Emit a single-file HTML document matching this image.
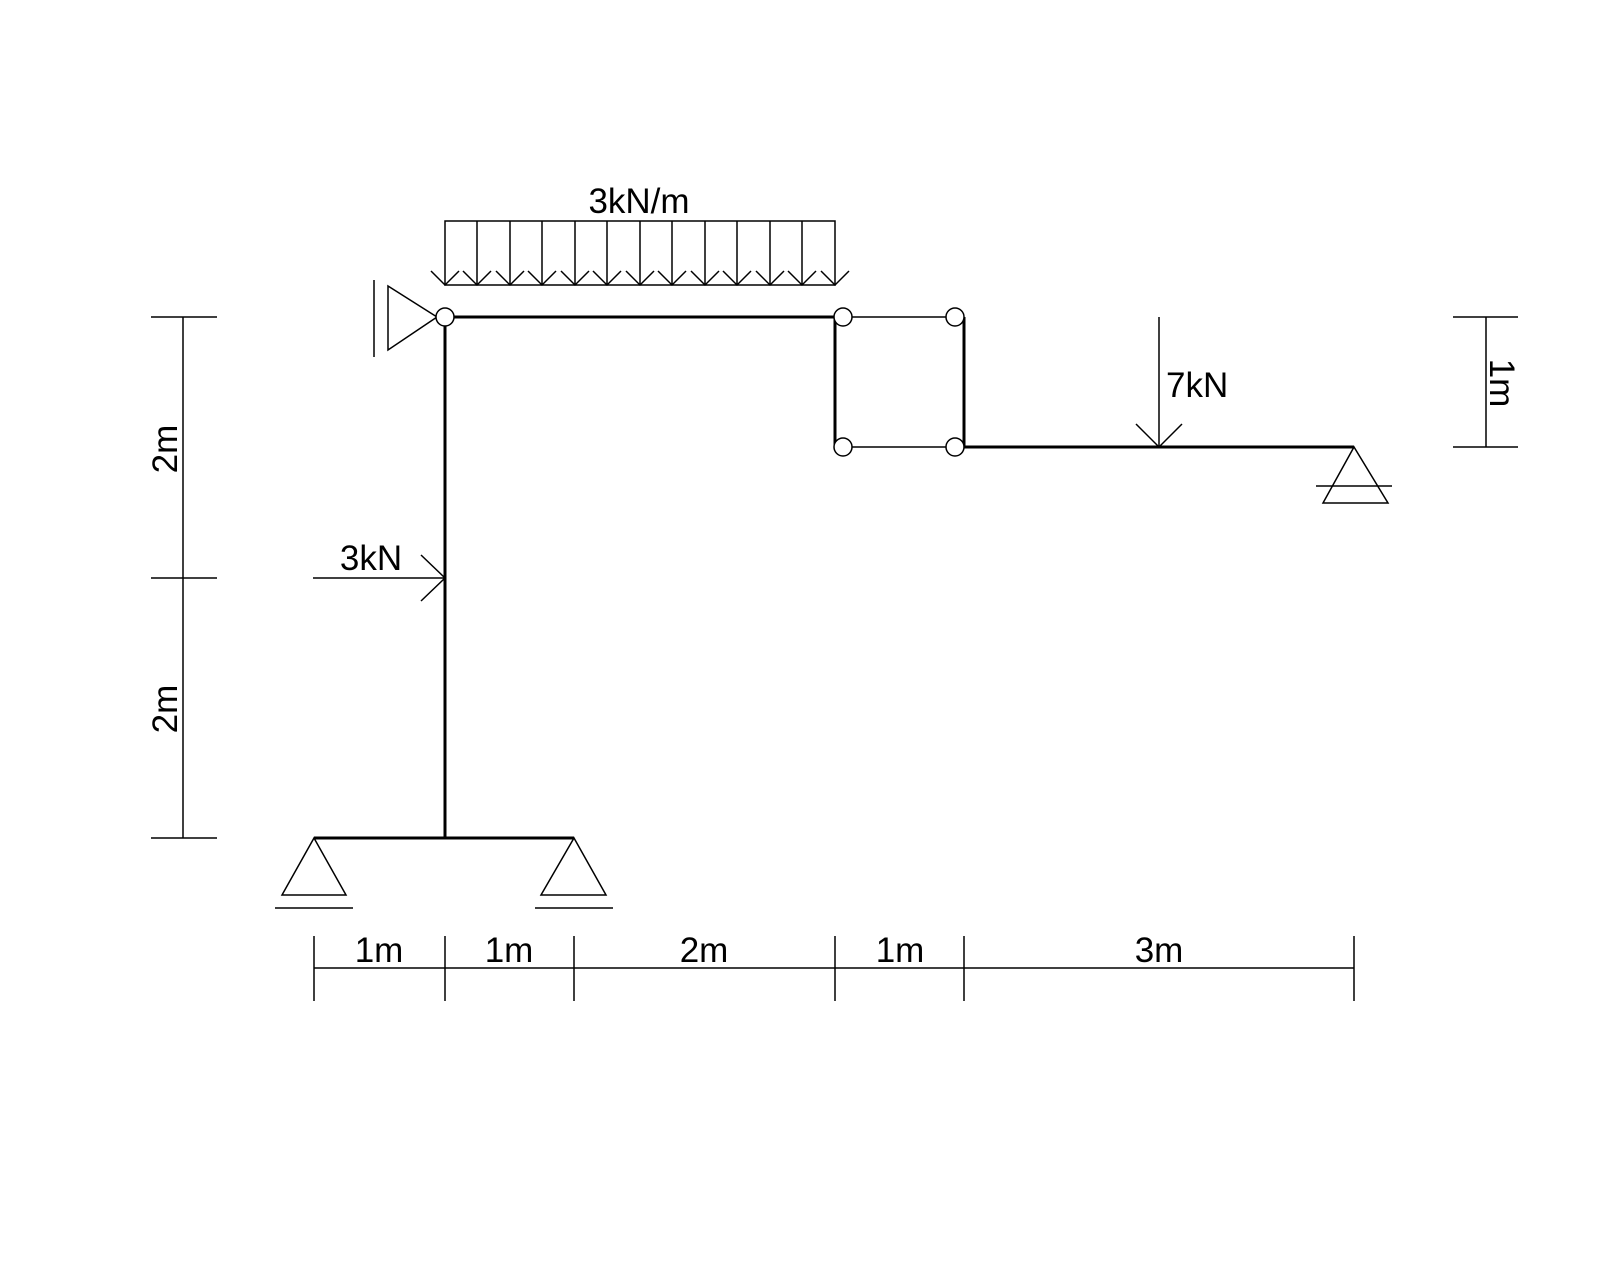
<!DOCTYPE html>
<html><head><meta charset="utf-8"><style>
html,body{margin:0;padding:0;background:#fff;}
svg{display:block;}
text{font-family:"Liberation Sans",sans-serif;font-size:35px;fill:#000;}
</style></head><body>
<svg width="1600" height="1280" viewBox="0 0 1600 1280" xmlns="http://www.w3.org/2000/svg">
<rect width="1600" height="1280" fill="#fff"/>
<g stroke="#000" fill="none" stroke-linecap="butt">
<g stroke-width="3">
<line x1="445" y1="317" x2="835" y2="317"/>
<line x1="445" y1="317" x2="445" y2="838"/>
<line x1="314" y1="838" x2="574" y2="838"/>
<line x1="835" y1="317" x2="835" y2="447"/>
<line x1="964" y1="317" x2="964" y2="447"/>
<line x1="964" y1="447" x2="1354" y2="447"/>
</g>
<g stroke-width="1.5">
<line x1="843" y1="317" x2="955" y2="317"/>
<line x1="843" y1="447" x2="955" y2="447"/>
<rect x="445" y="221" width="390" height="64"/>
<line x1="477" y1="221" x2="477" y2="285"/>
<line x1="510" y1="221" x2="510" y2="285"/>
<line x1="542" y1="221" x2="542" y2="285"/>
<line x1="575" y1="221" x2="575" y2="285"/>
<line x1="607" y1="221" x2="607" y2="285"/>
<line x1="640" y1="221" x2="640" y2="285"/>
<line x1="672" y1="221" x2="672" y2="285"/>
<line x1="705" y1="221" x2="705" y2="285"/>
<line x1="737" y1="221" x2="737" y2="285"/>
<line x1="770" y1="221" x2="770" y2="285"/>
<line x1="802" y1="221" x2="802" y2="285"/>
<path d="M431,271 L445,285 L459,271 M463,271 L477,285 L491,271 M496,271 L510,285 L524,271 M528,271 L542,285 L556,271 M561,271 L575,285 L589,271 M593,271 L607,285 L621,271 M626,271 L640,285 L654,271 M658,271 L672,285 L686,271 M691,271 L705,285 L719,271 M723,271 L737,285 L751,271 M756,271 L770,285 L784,271 M788,271 L802,285 L816,271 M821,271 L835,285 L849,271"/>
<path d="M388,286 L437,317 L388,350 Z"/>
<line x1="374" y1="280" x2="374" y2="357"/>
<path d="M314,838 L282,895 L346,895 Z"/>
<line x1="275" y1="908" x2="353" y2="908"/>
<path d="M574,838 L541,895 L606,895 Z"/>
<line x1="535" y1="908" x2="613" y2="908"/>
<path d="M1354,447 L1323,503 L1388,503 Z"/>
<line x1="1316" y1="486" x2="1392" y2="486"/>
<line x1="1159" y1="317" x2="1159" y2="447"/>
<path d="M1136,424 L1159,447 L1182,424"/>
<line x1="313" y1="578" x2="445" y2="578"/>
<path d="M421,555 L445,578 L421,601"/>
<line x1="183" y1="317" x2="183" y2="838"/>
<line x1="151" y1="317" x2="217" y2="317"/>
<line x1="151" y1="578" x2="217" y2="578"/>
<line x1="151" y1="838" x2="217" y2="838"/>
<line x1="1486" y1="317" x2="1486" y2="447"/>
<line x1="1453" y1="317" x2="1518" y2="317"/>
<line x1="1453" y1="447" x2="1518" y2="447"/>
<line x1="314" y1="968" x2="1354" y2="968"/>
<line x1="314" y1="936" x2="314" y2="1001"/>
<line x1="445" y1="936" x2="445" y2="1001"/>
<line x1="574" y1="936" x2="574" y2="1001"/>
<line x1="835" y1="936" x2="835" y2="1001"/>
<line x1="964" y1="936" x2="964" y2="1001"/>
<line x1="1354" y1="936" x2="1354" y2="1001"/>
</g>
<g fill="#fff" stroke-width="1.5">
<circle cx="445" cy="317" r="9"/>
<circle cx="843" cy="317" r="9"/>
<circle cx="955" cy="317" r="9"/>
<circle cx="843" cy="447" r="9"/>
<circle cx="955" cy="447" r="9"/>
</g>
</g>
<text x="639" y="213" text-anchor="middle">3kN/m</text>
<text x="1166" y="397">7kN</text>
<text x="371" y="570" text-anchor="middle">3kN</text>
<text x="379" y="962" text-anchor="middle">1m</text>
<text x="509" y="962" text-anchor="middle">1m</text>
<text x="704" y="962" text-anchor="middle">2m</text>
<text x="900" y="962" text-anchor="middle">1m</text>
<text x="1159" y="962" text-anchor="middle">3m</text>
<text transform="translate(177,449) rotate(-90)" text-anchor="middle">2m</text>
<text transform="translate(177,709) rotate(-90)" text-anchor="middle">2m</text>
<text transform="translate(1490,383) rotate(90)" text-anchor="middle">1m</text>
</svg>
</body></html>
